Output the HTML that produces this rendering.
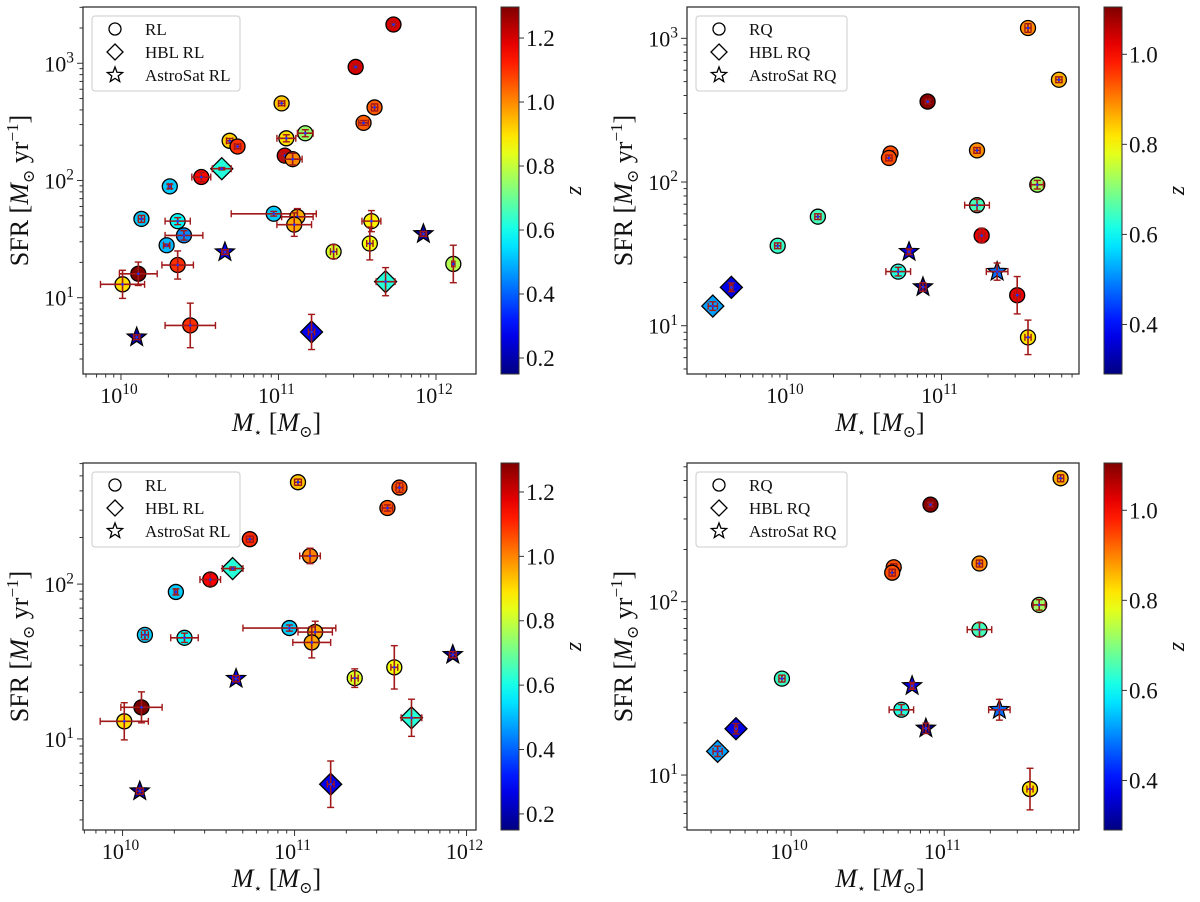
<!DOCTYPE html>
<html><head><meta charset="utf-8"><style>
html,body{margin:0;padding:0;background:#fff}
svg{display:block}
text{font-family:"Liberation Serif","DejaVu Serif",serif;fill:#111}
</style></head><body>
<svg id="fig" width="1200" height="902" viewBox="0 0 1200 902" xmlns="http://www.w3.org/2000/svg"></svg>
<script>
// ---- Top-left: RL sample (log10 M*, SFR, z) ----
const rlLogM = [11.73,11.49,11.61,11.54,11.02,11.05,11.17,10.69,10.74,11.04,11.09,10.64,10.51,10.31,10.13,10.36,10.40,10.29,10.97,11.12,11.10,11.59,11.58,11.35,12.11,11.68,11.92,10.66,10.11,10.01,10.36,10.44,11.21,10.10];
const rlSFR  = [2140,930,420,310,455,229,253,218,195,163,152,126,107,89,47,45,34,28,52,49,42,45,29,24.7,19.4,13.7,35,24.5,16,13,19,5.8,5.1,4.6];
const rlZ    = [1.2,1.2,1.05,1.05,0.93,0.9,0.75,0.92,1.1,1.2,1.0,0.62,1.15,0.52,0.52,0.58,0.45,0.5,0.52,0.96,0.96,0.88,0.85,0.82,0.78,0.62,0.18,0.28,1.3,0.9,1.1,1.1,0.27,0.2];
const rlShape= ['o','o','o','o','o','o','o','o','o','o','o','d','o','o','o','o','o','o','o','o','o','o','o','o','o','d','s','s','o','o','o','o','d','s'];
const rlXerr = [.01,.01,.02,.03,.02,.06,.05,.02,.02,.03,.06,.06,.06,.01,.02,.08,.12,.02,.27,.1,.11,.06,.02,.02,.01,.06,.02,.02,.12,.14,.1,.16,.02,.02];
const rlYerr = [.01,.01,.03,.02,.02,.03,.03,.02,.02,.03,.05,.01,.04,.02,.03,.03,.04,.01,.02,.07,.1,.09,.14,.06,.16,.12,.02,.02,.1,.12,.12,.19,.15,.02];
// ---- Top-right: RQ sample ----
const rqLogM = [11.56,11.76,10.91,10.67,10.66,11.23,11.62,11.23,10.20,9.94,11.26,10.79,10.72,10.88,11.36,11.49,11.56,9.52,9.64];
const rqSFR  = [1180,515,363,158,147,166,95.8,69,57.4,36,42.4,32.7,23.8,18.6,23.8,16.3,8.3,13.7,18.5];
const rqZ    = [0.89,0.86,1.1,0.94,0.94,0.89,0.72,0.65,0.65,0.64,1.02,0.37,0.62,0.3,0.48,1.02,0.82,0.52,0.37];
const rqShape= ['o','o','o','o','o','o','o','o','o','o','o','s','o','s','s','o','o','d','d'];
const rqXerr = [.02,.02,.01,.02,.02,.02,.04,.08,.02,.02,.02,.01,.08,.02,.07,.02,.02,.03,.01];
const rqYerr = [.03,.02,.01,.02,.02,.02,.03,.04,.02,.02,.05,.02,.03,.03,.06,.13,.12,.03,.03];
// ---- Bottom panels: subsets of the samples above ----
const rlSubset = [4,2,3,8,10,11,12,13,14,15,18,19,20,22,23,26,27,28,29,25,32,33];
const rqSubset = [1,2,3,4,5,6,7,9,11,12,13,14,16,17,18];
// tick labels
const rlCbarTicks = [0.2,0.4,0.6,0.8,1.0,1.2];
const rqCbarTicks = [0.4,0.6,0.8,1.0];

const NS='http://www.w3.org/2000/svg';
const svg=document.getElementById('fig');
function mk(tag,attrs,parent){const e=document.createElementNS(NS,tag);for(const k in attrs)e.setAttribute(k,attrs[k]);(parent||svg).appendChild(e);return e;}
function jet(v){
  const c=x=>Math.max(0,Math.min(1,x));
  const r=c(1.5-Math.abs(4*v-3)), g=c(1.5-Math.abs(4*v-2)), b=c(1.5-Math.abs(4*v-1));
  return 'rgb('+Math.round(r*255)+','+Math.round(g*255)+','+Math.round(b*255)+')';
}
function sup(t,base,exp,x,y,size,anchor){
  const tx=mk('text',{x:x,y:y,'font-size':size,'text-anchor':anchor||'middle'},t);
  tx.textContent=base;
  const ts=mk('tspan',{dy:-size*0.4,'font-size':size*0.7},tx);ts.textContent=exp;
  return tx;
}
const panels=[
 {name:'top-left',L:83,R:476,T:7,B:374,x0:9.759,x1:12.254,y0:0.349,y1:3.48,cb:[501,519],z0:0.15,z1:1.297,cbt:rlCbarTicks,
  lab:['RL','HBL RL','AstroSat RL'],M:rlLogM,S:rlSFR,Z:rlZ,Sh:rlShape,XE:rlXerr,YE:rlYerr,idx:null},
 {name:'top-right',L:687,R:1079,T:7,B:374,x0:9.353,x1:11.89,y0:0.664,y1:3.218,cb:[1104,1122],z0:0.29,z1:1.105,cbt:rqCbarTicks,
  lab:['RQ','HBL RQ','AstroSat RQ'],M:rqLogM,S:rqSFR,Z:rqZ,Sh:rqShape,XE:rqXerr,YE:rqYerr,idx:null},
 {name:'bottom-left',L:83,R:476,T:463,B:830,x0:9.77,x1:12.055,y0:0.412,y1:2.782,cb:[501,519],z0:0.15,z1:1.29,cbt:rlCbarTicks,
  lab:['RL','HBL RL','AstroSat RL'],M:rlLogM,S:rlSFR,Z:rlZ,Sh:rlShape,XE:rlXerr,YE:rlYerr,idx:rlSubset},
 {name:'bottom-right',L:687,R:1079,T:463,B:830,x0:9.32,x1:11.88,y0:0.683,y1:2.80,cb:[1104,1122],z0:0.29,z1:1.105,cbt:rqCbarTicks,
  lab:['RQ','HBL RQ','AstroSat RQ'],M:rqLogM,S:rqSFR,Z:rqZ,Sh:rqShape,XE:rqXerr,YE:rqYerr,idx:rqSubset}
];
function starPath(cx,cy,r){let d='';for(let i=0;i<10;i++){const rr=i%2?r*0.42:r;const a=-Math.PI/2+i*Math.PI/5;d+=(i?'L':'M')+(cx+rr*Math.cos(a)).toFixed(2)+','+(cy+rr*Math.sin(a)).toFixed(2);}return d+'Z';}
function marker(g,sh,x,y,fill){
  if(sh==='o') return mk('circle',{cx:x,cy:y,r:7.5,fill:fill,stroke:'#000','stroke-width':1.3},g);
  if(sh==='d') return mk('path',{d:`M${x},${y-11}L${x+11},${y}L${x},${y+11}L${x-11},${y}Z`,fill:fill,stroke:'#000','stroke-width':1.3},g);
  return mk('path',{d:starPath(x,y,10),fill:fill,stroke:'#000','stroke-width':1.2},g);
}
panels.forEach(p=>{
  const g=mk('g',{});
  
  
  const X=v=>p.L+(v-p.x0)/(p.x1-p.x0)*(p.R-p.L);
  const Y=v=>p.B-(v-p.y0)/(p.y1-p.y0)*(p.B-p.T);
  mk('rect',{x:p.L,y:p.T,width:p.R-p.L,height:p.B-p.T,fill:'#fff',stroke:'#333','stroke-width':1.3},g);
  for(let d=Math.floor(p.x0);d<=Math.ceil(p.x1);d++){
    for(let m=1;m<10;m++){
      const v=d+Math.log10(m); if(v<p.x0||v>p.x1) continue;
      const x=X(v);
      mk('line',{x1:x,y1:p.B,x2:x,y2:p.B+(m===1?6:3.5),stroke:'#333','stroke-width':1},g);
      if(m===1){const t=sup(g,'10',String(d),x-2,p.B+29,22);}
    }
  }
  for(let d=Math.floor(p.y0);d<=Math.ceil(p.y1);d++){
    for(let m=1;m<10;m++){
      const v=d+Math.log10(m); if(v<p.y0||v>p.y1) continue;
      const y=Y(v);
      mk('line',{x1:p.L,y1:y,x2:p.L-(m===1?6:3.5),y2:y,stroke:'#333','stroke-width':1},g);
      if(m===1){const t=sup(g,'10',String(d),p.L-9,y+8,22,'end');}
    }
  }
  const xl=mk('text',{x:(p.L+p.R)/2-3,y:p.B+57,'font-size':26,'text-anchor':'middle'},g);
  xl.innerHTML='<tspan font-style="italic">M</tspan><tspan font-size="14" dy="6">⋆</tspan><tspan dy="-6"> [</tspan><tspan font-style="italic">M</tspan><tspan font-size="16" dy="6">⊙</tspan><tspan dy="-6">]</tspan>';
  
  
  const yc=(p.T+p.B)/2, yx=p.L-55;
  const yl=mk('text',{x:yx,y:yc,'font-size':26,'text-anchor':'middle',transform:`rotate(-90 ${yx} ${yc})`},g);
  yl.innerHTML='SFR [<tspan font-style="italic">M</tspan><tspan font-size="16" dy="6">⊙</tspan><tspan dy="-6"> yr</tspan><tspan font-size="17" dy="-10">−1</tspan><tspan dy="10">]</tspan>';
  
  
  const ids=p.idx||p.M.map((_,i)=>i);
  ids.forEach(i=>{
    const x=X(p.M[i]), ly=Math.log10(p.S[i]), y=Y(ly);
    const pg=mk('g',{},g);
    
    
    marker(pg,p.Sh[i],x,y,jet((p.Z[i]-p.z0)/(p.z1-p.z0)));
    const xa=X(p.M[i]-p.XE[i]), xb=X(p.M[i]+p.XE[i]), ya=Y(ly-p.YE[i]), yb=Y(ly+p.YE[i]);
    const ec='#a01818';
    mk('line',{x1:xa,y1:y,x2:xb,y2:y,stroke:ec,'stroke-width':1.6},pg);
    mk('line',{x1:x,y1:ya,x2:x,y2:yb,stroke:ec,'stroke-width':1.6},pg);
    [xa,xb].forEach(xx=>mk('line',{x1:xx,y1:y-3.5,x2:xx,y2:y+3.5,stroke:ec,'stroke-width':1.4},pg));
    [ya,yb].forEach(yy=>mk('line',{x1:x-3.5,y1:yy,x2:x+3.5,y2:yy,stroke:ec,'stroke-width':1.4},pg));
    mk('circle',{cx:x,cy:y,r:1.3,fill:'#2030ff'},pg);
  });
  const lg=mk('g',{},g);
  
  
  const lx=p.L+9, ly0=p.T+9, lw=p.name.includes('right')?151:148;
  mk('rect',{x:lx,y:ly0,width:lw,height:75,rx:3,fill:'#fff',stroke:'#ccc','stroke-width':1},lg);
  ['o','d','s'].forEach((s,k)=>{
    const yy=ly0+13+k*23, mx=lx+23;
    if(s==='o') mk('circle',{cx:mx,cy:yy,r:6,fill:'#fff',stroke:'#000','stroke-width':1.3},lg);
    else if(s==='d') mk('path',{d:`M${mx},${yy-8}L${mx+8},${yy}L${mx},${yy+8}L${mx-8},${yy}Z`,fill:'#fff',stroke:'#000','stroke-width':1.3},lg);
    else mk('path',{d:starPath(mx,yy,8),fill:'#fff',stroke:'#000','stroke-width':1.3},lg);
    const t=mk('text',{x:lx+53,y:yy+6,'font-size':17},lg);t.textContent=p.lab[k];
    
    
  });
  const cg=mk('g',{},g);
  
  
  const gid='grad-'+p.name;
  const grad=mk('linearGradient',{id:gid,x1:0,y1:1,x2:0,y2:0},mk('defs',{},cg));
  for(let k=0;k<=20;k++) mk('stop',{offset:k/20,'stop-color':jet(k/20)},grad);
  mk('rect',{x:p.cb[0],y:p.T,width:p.cb[1]-p.cb[0],height:p.B-p.T,fill:`url(#${gid})`,stroke:'#333','stroke-width':1},cg);
  p.cbt.forEach(v=>{
    const y=p.B-(v-p.z0)/(p.z1-p.z0)*(p.B-p.T);
    mk('line',{x1:p.cb[1],y1:y,x2:p.cb[1]+5,y2:y,stroke:'#333','stroke-width':1},cg);
    const t=mk('text',{x:p.cb[1]+7,y:y+8,'font-size':23},cg);t.textContent=v.toFixed(1);
    
    
  });
  const zx=p.cb[1]+62, zy=(p.T+p.B)/2;
  const zl=mk('text',{x:zx,y:zy,'font-size':24,'font-style':'italic','text-anchor':'middle',transform:`rotate(-90 ${zx} ${zy})`},cg);
  zl.textContent='z';
  
  
});
</script>
</body></html>
